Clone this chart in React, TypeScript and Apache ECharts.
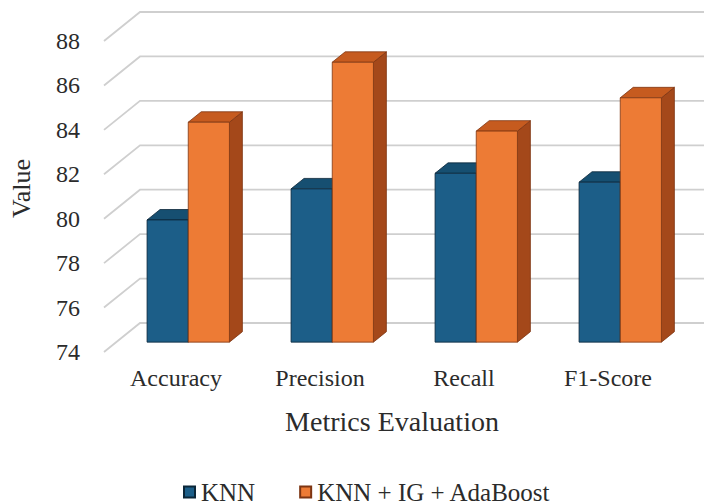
import React, { useEffect, useRef } from "react";
import * as echarts from "echarts";

// Metric names along the category axis
const categories = ["Accuracy", "Precision", "Recall", "F1-Score"];
// Scores (%) for each model
const knnScores = [79.5, 80.9, 81.6, 81.2];
const knnIgAdaBoostScores = [83.9, 86.6, 83.5, 85.0];
const seriesNames = ["KNN", "KNN + IG + AdaBoost"];
// Value axis ticks
const valueTicks = [74, 76, 78, 80, 82, 84, 86, 88];

// Pseudo-3D geometry: offset from the front edge of the floor to the back wall
const DEPTH_X = 36;
const DEPTH_Y = -29;
// Bars occupy this slice of the depth
const BAR_FRONT = 0.34;
const BAR_BACK = 0.7;
// Width of one bar as a share of the category band
const BAR_SHARE = 0.286;

const FONT = "Liberation Serif, DejaVu Serif, serif";
const TEXT = "#2b2b2b";

const palettes = [
  { front: "#1c5e88", top: "#164f71", side: "#113d58", edge: "#0b2638" },
  { front: "#ed7b35", top: "#c65b1f", side: "#a4481a", edge: "#7d3512" },
];

function barRenderer(seriesIndex: number) {
  const pal = palettes[seriesIndex];
  return (params: any, api: any) => {
    const cat = api.value(0);
    const val = api.value(1);
    const topPt = api.coord([cat, val]);
    const basePt = api.coord([cat, valueTicks[0]]);
    const band = api.size([1, 0])[0];
    const w = band * BAR_SHARE;
    const x0 = topPt[0] + (seriesIndex === 0 ? -w : 0) + BAR_FRONT * DEPTH_X;
    const yT = topPt[1] + BAR_FRONT * DEPTH_Y;
    const yB = basePt[1] + BAR_FRONT * DEPTH_Y;
    const dx = (BAR_BACK - BAR_FRONT) * DEPTH_X;
    const dy = (BAR_BACK - BAR_FRONT) * DEPTH_Y;
    const stroke = { stroke: pal.edge, lineWidth: 0.8, lineJoin: "round" };
    return {
      type: "group",
      children: [
        {
          type: "polygon",
          shape: {
            points: [
              [x0 + w, yT],
              [x0 + w + dx, yT + dy],
              [x0 + w + dx, yB + dy],
              [x0 + w, yB],
            ],
          },
          style: { fill: pal.side, ...stroke },
        },
        {
          type: "polygon",
          shape: {
            points: [
              [x0, yT],
              [x0 + w, yT],
              [x0 + w + dx, yT + dy],
              [x0 + dx, yT + dy],
            ],
          },
          style: { fill: pal.top, ...stroke },
        },
        {
          type: "rect",
          shape: { x: x0, y: yT, width: w, height: yB - yT },
          style: { fill: pal.front, ...stroke },
        },
      ],
    };
  };
}

// Back-wall gridlines with the slanted floor/side segments
function wallRenderer(params: any, api: any) {
  const cs = params.coordSys;
  const y = api.coord([0, api.value(1)])[1];
  const left = cs.x;
  const right = cs.x + cs.width;
  return {
    type: "polyline",
    shape: {
      points: [
        [left, y],
        [left + DEPTH_X, y + DEPTH_Y],
        [right + DEPTH_X + 40, y + DEPTH_Y],
      ],
    },
    style: { stroke: "#cfcfcf", lineWidth: 1.8, fill: "none" },
  };
}

export default function App() {
  const ref = useRef<HTMLDivElement>(null);

  useEffect(() => {
    if (!ref.current) return;
    const chart = echarts.init(ref.current, null, { renderer: "svg" });
    const seriesData = [knnScores, knnIgAdaBoostScores];

    chart.setOption({
      animation: false,
      backgroundColor: "#ffffff",
      textStyle: { fontFamily: FONT },
      grid: { left: 97, right: 24, top: 41, bottom: 152, containLabel: false },
      legend: {
        data: seriesNames,
        top: 474,
        left: 178,
        icon: "rect",
        itemWidth: 11,
        itemHeight: 11,
        itemGap: 44,
        textStyle: {
          fontFamily: FONT,
          fontSize: 25,
          lineHeight: 26,
          color: TEXT,
          padding: [0, 0, 0, 1],
        },
      },
      xAxis: {
        type: "category",
        data: categories,
        axisLine: { show: false },
        axisTick: { show: false },
        axisLabel: { fontFamily: FONT, fontSize: 24, color: TEXT, margin: 14 },
        name: "Metrics Evaluation",
        nameLocation: "middle",
        nameGap: 55,
        nameTextStyle: { fontFamily: FONT, fontSize: 28, color: TEXT },
      },
      yAxis: {
        type: "value",
        min: 74,
        max: 88,
        interval: 2,
        axisLine: { show: false },
        axisTick: { show: false },
        splitLine: { show: false },
        axisLabel: { fontFamily: FONT, fontSize: 24, color: TEXT, margin: 24 },
        name: "Value",
        nameLocation: "middle",
        nameGap: 70,
        nameTextStyle: {
          fontFamily: FONT,
          fontSize: 26,
          color: TEXT,
          padding: [0, 0, 0, 16],
        },
      },
      series: [
        {
          type: "custom",
          name: "wall",
          silent: true,
          z: 1,
          renderItem: wallRenderer,
          encode: { x: 0, y: 1 },
          data: valueTicks.map((v) => [0, v]),
        },
        ...seriesNames.map((name, i) => ({
          type: "custom",
          name,
          z: 2,
          itemStyle: { color: palettes[i].front, borderColor: palettes[i].edge, borderWidth: 1 },
          renderItem: barRenderer(i),
          encode: { x: 0, y: 1 },
          data: seriesData[i].map((v, c) => [c, v]),
        })),
      ],
    });

    return () => chart.dispose();
  }, []);

  return (
    <div
      ref={ref}
      style={{ position: "fixed", left: 0, top: 0, width: 704, height: 504 }}
    />
  );
}
